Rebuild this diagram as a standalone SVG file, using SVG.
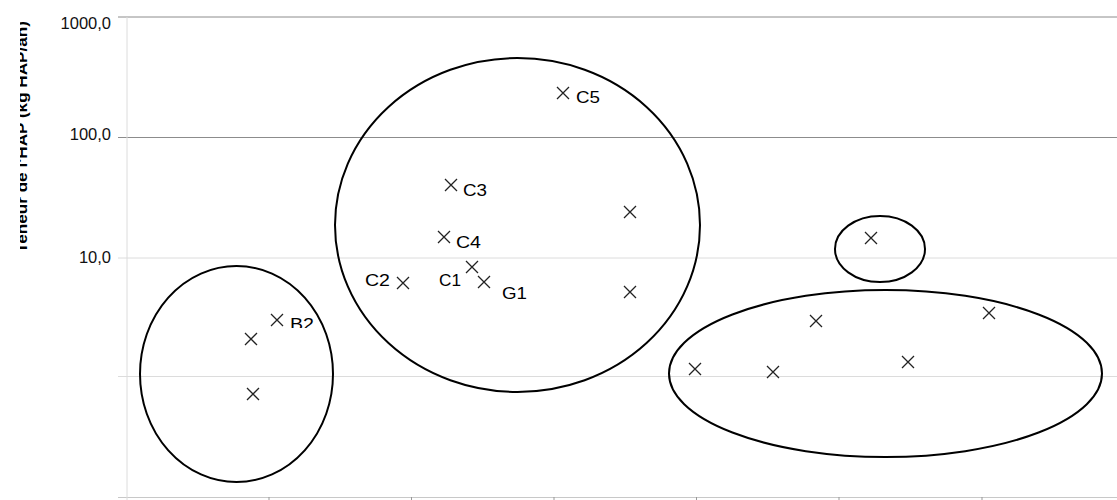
<svg xmlns="http://www.w3.org/2000/svg" width="1117" height="500" viewBox="0 0 1117 500">
<style>
.gd{stroke:#8c8c8c;stroke-width:1}
.gl{stroke:#dcdcdc;stroke-width:1}
.tick{font-family:"Liberation Sans",Arial,sans-serif;font-size:16.5px;fill:#111;text-anchor:end}
.lab{font-family:"Liberation Sans",Arial,sans-serif;font-size:16px;fill:#000}
.ttl{font-family:"Liberation Sans",Arial,sans-serif;font-size:15px;font-weight:bold;fill:#000;text-anchor:middle}
.ell{fill:none;stroke:#000;stroke-width:2}
.x{stroke:#222;stroke-width:1.3;fill:none}
</style>
<defs>
<clipPath id="ttlclip"><rect x="20" y="0" width="30" height="500"/></clipPath>
<clipPath id="b2clip"><rect x="280" y="300" width="50" height="28"/></clipPath>
<path id="xm" d="M-6,-6L6,6M-6,6L6,-6" class="x"/>
</defs>
<rect width="1117" height="500" fill="#fff"/>
<g id="axes">
<line x1="118" y1="17" x2="1117" y2="17" class="gd"/>
<line x1="118" y1="137.5" x2="1117" y2="137.5" class="gd"/>
<line x1="118" y1="258" x2="1117" y2="258" class="gl"/>
<line x1="118" y1="376.5" x2="1117" y2="376.5" class="gl"/>
<line x1="118" y1="497.5" x2="1117" y2="497.5" stroke="#c8c8c8"/>
<line x1="127" y1="17" x2="127" y2="500" class="gl"/>
<g stroke="#999">
<line x1="269" y1="497" x2="269" y2="500"/>
<line x1="411.5" y1="497" x2="411.5" y2="500"/>
<line x1="554" y1="497" x2="554" y2="500"/>
<line x1="696.5" y1="497" x2="696.5" y2="500"/>
<line x1="839" y1="497" x2="839" y2="500"/>
<line x1="982" y1="497" x2="982" y2="500"/>
</g>
<text class="tick" x="111" y="29">1000,0</text>
<text class="tick" x="111" y="140">100,0</text>
<text class="tick" x="111" y="263">10,0</text>
<g clip-path="url(#ttlclip)">
<text class="ttl" transform="translate(27,137) rotate(-90)" textLength="232" lengthAdjust="spacingAndGlyphs">Teneur de l'HAP (kg HAP/an)</text>
</g>
</g>
<g id="group-left">
<ellipse class="ell" cx="236.5" cy="374" rx="96.5" ry="108"/>
<use href="#xm" x="251" y="339"/>
<use href="#xm" x="277" y="320"/>
<use href="#xm" x="253" y="394"/>
<g clip-path="url(#b2clip)"><text class="lab" x="290" y="330" textLength="24" lengthAdjust="spacingAndGlyphs">B2</text></g>
</g>
<g id="group-middle">
<ellipse class="ell" cx="517.5" cy="225" rx="182.5" ry="167"/>
<use href="#xm" x="563" y="93"/>
<text class="lab" x="576" y="103" textLength="24" lengthAdjust="spacingAndGlyphs">C5</text>
<use href="#xm" x="451" y="185"/>
<text class="lab" x="463" y="196" textLength="24" lengthAdjust="spacingAndGlyphs">C3</text>
<use href="#xm" x="444" y="237"/>
<text class="lab" x="456" y="248" textLength="25" lengthAdjust="spacingAndGlyphs">C4</text>
<use href="#xm" x="403" y="283"/>
<text class="lab" x="365" y="286" textLength="25" lengthAdjust="spacingAndGlyphs">C2</text>
<use href="#xm" x="472" y="267"/>
<text class="lab" x="439" y="286" textLength="22" lengthAdjust="spacingAndGlyphs">C1</text>
<use href="#xm" x="484" y="282"/>
<text class="lab" x="502" y="299" textLength="25" lengthAdjust="spacingAndGlyphs">G1</text>
<use href="#xm" x="630" y="212"/>
<use href="#xm" x="630" y="292"/>
</g>
<g id="group-small">
<ellipse class="ell" cx="880" cy="249" rx="45" ry="33"/>
<use href="#xm" x="871" y="238"/>
</g>
<g id="group-right">
<ellipse class="ell" cx="885.5" cy="373.5" rx="216.5" ry="83.5"/>
<use href="#xm" x="695" y="369"/>
<use href="#xm" x="773" y="372"/>
<use href="#xm" x="816" y="321"/>
<use href="#xm" x="908" y="362"/>
<use href="#xm" x="989" y="313"/>
</g>
<g id="connectors"></g>
</svg>
